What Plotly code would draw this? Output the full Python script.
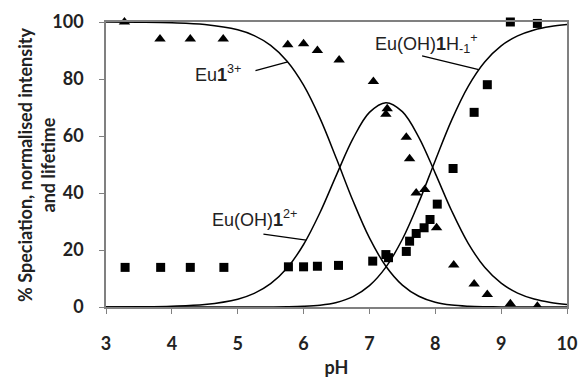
import plotly.graph_objects as go

# Speciation curves (% of each europium species vs pH)
curve_ph = [3.0, 3.5, 4.0, 4.5, 5.0, 5.25, 5.5, 5.75, 6.0, 6.25, 6.5, 6.75, 7.0,
            7.25, 7.5, 7.75, 8.0, 8.25, 8.5, 8.75, 9.0, 9.25, 9.5, 9.75, 10.0]
eu1 = [99.97, 99.91, 99.72, 99.12, 97.26, 95.22, 91.79, 86.24, 77.83, 66.18, 52.02,
       37.28, 24.23, 14.31, 7.69, 3.76, 1.66, 0.67, 0.25, 0.09, 0.03, 0.01, 0.0, 0.0, 0.0]
eu_oh1 = [0.03, 0.09, 0.28, 0.88, 2.74, 4.77, 8.18, 13.67, 21.93, 33.17, 46.37,
          59.08, 68.28, 71.71, 68.55, 59.54, 46.90, 33.67, 22.33, 13.94, 8.36, 4.88,
          2.80, 1.60, 0.90]
eu_oh1h = [0.0, 0.0, 0.0, 0.0, 0.0, 0.01, 0.03, 0.08, 0.24, 0.65, 1.61, 3.64, 7.49,
           13.98, 23.76, 36.71, 51.43, 65.66, 77.42, 85.97, 91.62, 95.11, 97.19,
           98.40, 99.10]

# Normalised emission intensity (triangles)
int_ph = [3.28, 3.82, 4.28, 4.78, 5.76, 6.0, 6.21, 6.54, 7.06, 7.27, 7.25, 7.56,
          7.61, 7.71, 7.84, 8.02, 8.28, 8.59, 8.79, 9.14, 9.55]
intensity = [100, 94, 94, 94, 92, 92.4, 90, 86.7, 79.1, 69.6, 67.6, 59.6, 52, 40,
             41.2, 27.8, 14.7, 8.1, 4.4, 1.1, 0.3]

# Normalised lifetime (squares)
life_ph = [3.29, 3.83, 4.28, 4.79, 5.77, 6.0, 6.21, 6.53, 7.05, 7.25, 7.29, 7.56,
           7.61, 7.71, 7.83, 7.92, 8.03, 8.27, 8.59, 8.79, 9.14, 9.55]
lifetime = [13.9, 13.9, 13.9, 13.9, 14.1, 14.1, 14.3, 14.6, 16.1, 18.4, 17.3, 19.5,
            23.1, 25.8, 27.8, 30.7, 36.1, 48.6, 68.3, 78.0, 100, 99.5]

# Species labels: text, text position, leader-line start, leader-line end on curve
labels = [
    ("Eu<b>1</b><sup>3+</sup>", 4.70, 82.0, 5.27, 82.9, 5.76, 86.0),
    ("Eu(OH)<b>1</b><sup>2+</sup>", 5.25, 31.2, 5.39, 25.6, 6.04, 23.5),
    ("Eu(OH)<b>1</b>H<sub>-1</sub><sup>+</sup>", 7.87, 92.3, 7.80, 88.1, 8.66, 83.3),
]

fig = go.Figure()
for ys in (eu1, eu_oh1, eu_oh1h):
    fig.add_trace(go.Scatter(x=curve_ph, y=ys, mode="lines", line_shape="spline",
                             line=dict(color="black", width=1.5), showlegend=False))

fig.add_trace(go.Scatter(x=int_ph, y=intensity, mode="markers", cliponaxis=False,
                         marker=dict(symbol="triangle-up", size=10, color="black"),
                         showlegend=False))
fig.add_trace(go.Scatter(x=life_ph, y=lifetime, mode="markers", cliponaxis=False,
                         marker=dict(symbol="square", size=9, color="black"),
                         showlegend=False))

for text, tx, ty, x0, y0, x1, y1 in labels:
    fig.add_annotation(x=tx, y=ty, text=text, showarrow=False,
                       font=dict(family="Liberation Sans", size=18, color="#222"))
    fig.add_shape(type="line", x0=x0, y0=y0, x1=x1, y1=y1, xref="x", yref="y",
                  line=dict(color="black", width=1.3))

# Y-axis title, two centred lines rotated alongside the tick labels
fig.add_annotation(text="% Speciation, normalised intensity<br>and lifetime",
                   xref="paper", yref="paper", x=-0.151, y=0.5, textangle=-90,
                   xanchor="center", yanchor="middle",
                   showarrow=False, align="center",
                   font=dict(family="Lato", size=18, color="#222", weight="bold"))

axis_font = dict(family="Lato", size=18, color="#222", weight="bold")
fig.update_xaxes(range=[3, 10], dtick=1, tick0=3, showgrid=False, zeroline=False,
                 showline=True, linecolor="#808080", linewidth=1.5, mirror=True,
                 ticks="outside", ticklen=5, tickcolor="#808080",
                 tickfont=axis_font, ticklabelstandoff=15,
                 title=dict(text="pH", standoff=8,
                            font=dict(family="Lato", size=18, color="#222", weight="bold")))
fig.update_yaxes(range=[0, 100], dtick=20, showgrid=False, zeroline=False,
                 showline=True, linecolor="#808080", linewidth=1.5, mirror=True,
                 ticks="outside", ticklen=5, tickcolor="#808080",
                 tickfont=axis_font, ticklabelstandoff=12)

fig.update_layout(width=587, height=385, margin=dict(l=106, r=10, t=21, b=71),
                  plot_bgcolor="white", paper_bgcolor="white")

fig.write_html("out.html")
